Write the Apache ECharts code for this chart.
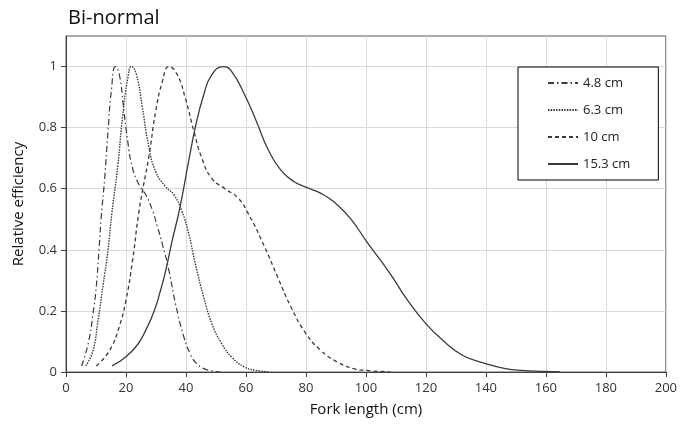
<!DOCTYPE html>
<html>
<head>
<meta charset="utf-8">
<script src="https://cdn.jsdelivr.net/npm/echarts@6/dist/echarts.min.js"></script>
<style>html,body{margin:0;padding:0;background:#fff}#c{width:680px;height:424px}</style>
</head>
<body>
<div id="c"></div>
<script>
var seriesNames = ['4.8 cm', '6.3 cm', '10 cm', '15.3 cm'];
var xTicks = [0, 20, 40, 60, 80, 100, 120, 140, 160, 180, 200];
var yTicks = [0, 0.2, 0.4, 0.6, 0.8, 1];

var x48 = [5.2, 7.4, 9.0, 10.1, 11.0, 11.8, 12.9, 14.0, 15.1, 16.5, 17.8, 19.1, 20.6, 22.2, 24.4, 26.6, 28.8, 30.5, 32.1, 34.3, 36.5, 39.3, 41.5, 43.5, 46, 48.6, 51.5];
var y48 = [0.02, 0.093, 0.19, 0.28, 0.40, 0.515, 0.634, 0.787, 0.918, 1.0, 0.973, 0.874, 0.754, 0.667, 0.612, 0.58, 0.53, 0.475, 0.42, 0.333, 0.224, 0.115, 0.058, 0.028, 0.011, 0.004, 0.0];

var x63 = [6.6, 9.0, 10.7, 12.3, 14.0, 15.3, 17.3, 18.9, 20.6, 21.8, 23.5, 25.5, 27.5, 29.9, 33.2, 36.0, 38.7, 40.9, 43.1, 45.9, 48.6, 51.9, 55.2, 59.6, 63, 67.5];
var y63 = [0.02, 0.07, 0.17, 0.28, 0.40, 0.52, 0.678, 0.84, 0.962, 1.0, 0.973, 0.864, 0.743, 0.656, 0.607, 0.58, 0.525, 0.454, 0.355, 0.246, 0.159, 0.093, 0.049, 0.016, 0.006, 0.0];

var x10 = [10.1, 14.5, 17.8, 20.0, 22.2, 24.4, 27.7, 29.9, 32.1, 34.3, 37.1, 39.8, 42.6, 45.3, 48.6, 53.0, 57.4, 60.7, 66.2, 70.6, 75.0, 80.0, 84.9, 90.4, 95.9, 100.3, 108];
var y10 = [0.02, 0.07, 0.15, 0.235, 0.366, 0.53, 0.71, 0.853, 0.95, 1.0, 0.973, 0.896, 0.79, 0.70, 0.634, 0.60, 0.569, 0.52, 0.41, 0.31, 0.213, 0.126, 0.071, 0.033, 0.011, 0.005, 0.0];

var x153 = [15.4, 20.0, 23.9, 26.6, 29.4, 31.6, 33.2, 35.4, 37.8, 40.9, 43.1, 45.9, 48.6, 52.5, 55.2, 59.6, 63.5, 67.3, 71.7, 76.1, 80.0, 85.0, 89.3, 94.8, 100.3, 108.0, 113.5, 119.9, 125.6, 132.2, 139.7, 146.5, 152, 159.7, 164.7];
var y153 = [0.02, 0.05, 0.09, 0.137, 0.20, 0.27, 0.33, 0.43, 0.53, 0.69, 0.80, 0.907, 0.973, 1.0, 0.984, 0.907, 0.82, 0.73, 0.66, 0.623, 0.605, 0.585, 0.557, 0.503, 0.426, 0.323, 0.24, 0.159, 0.104, 0.055, 0.028, 0.011, 0.005, 0.002, 0.0];

function zip(xs, ys) { return xs.map(function (x, i) { return [x, ys[i]]; }); }

var lineStyles = [
  { color: '#3a3a3a', width: 1.2, type: [6, 3, 1.5, 3] },
  { color: '#3a3a3a', width: 1.4, type: [1.5, 1.2] },
  { color: '#3a3a3a', width: 1.3, type: [4, 3] },
  { color: '#3a3a3a', width: 1.3, type: 'solid' }
];
var datasets = [zip(x48, y48), zip(x63, y63), zip(x10, y10), zip(x153, y153)];

var font = '"Open Sans", "Noto Sans", sans-serif';
var chart = echarts.init(document.getElementById('c'), null, { renderer: 'canvas' });
chart.setOption({
  animation: false,
  backgroundColor: '#fff',
  title: {
    text: 'Bi-normal', left: 63, top: 3,
    textStyle: { fontFamily: font, fontSize: 20, fontWeight: 'normal', color: '#111' }
  },
  grid: { left: 66, right: 12, top: 36, bottom: 52, show: true, borderColor: '#595959', borderWidth: 1 },
  legend: {
    orient: 'vertical', left: 518, top: 67,
    padding: [9, 28, 9, 29], itemGap: 13, itemWidth: 30, itemHeight: 14,
    borderColor: '#000', borderWidth: 1, backgroundColor: '#fff',
    itemStyle: { opacity: 0 },
    textStyle: { fontFamily: font, fontSize: 13, color: '#222', lineHeight: 14 },
    data: seriesNames
  },
  xAxis: {
    type: 'value', min: 0, max: 200, interval: 20,
    name: 'Fork length (cm)', nameLocation: 'middle', nameGap: 30,
    nameTextStyle: { fontFamily: font, fontSize: 15, color: '#111' },
    axisLine: { show: true, lineStyle: { color: '#404040', width: 1 } },
    axisTick: { show: true, length: 5, lineStyle: { color: '#404040' } },
    axisLabel: { fontFamily: font, fontSize: 13, color: '#333', margin: 10,
      customValues: xTicks },
    splitLine: { show: true, lineStyle: { color: '#d9d9d9', width: 1 } }
  },
  yAxis: {
    type: 'value', min: 0, max: 1.1, interval: 0.2,
    name: 'Relative efficiency', nameLocation: 'middle', nameGap: 40,
    nameTextStyle: { fontFamily: font, fontSize: 15, color: '#111' },
    axisLine: { show: true, lineStyle: { color: '#404040', width: 1 } },
    axisTick: { show: true, length: 5, lineStyle: { color: '#404040' }, customValues: yTicks },
    axisLabel: { fontFamily: font, fontSize: 13, color: '#333', margin: 9,
      customValues: yTicks,
      formatter: function (v) { return v > 1.05 ? '' : String(Math.round(v * 10) / 10); } },
    splitLine: { show: true, lineStyle: { color: '#d9d9d9', width: 1 } }
  },
  series: seriesNames.map(function (n, i) {
    return {
      name: n, type: 'line', data: datasets[i], smooth: 0.5, symbol: 'none',
      lineStyle: lineStyles[i], itemStyle: { color: '#3a3a3a' }, z: 3
    };
  })
});
</script>
</body>
</html>
